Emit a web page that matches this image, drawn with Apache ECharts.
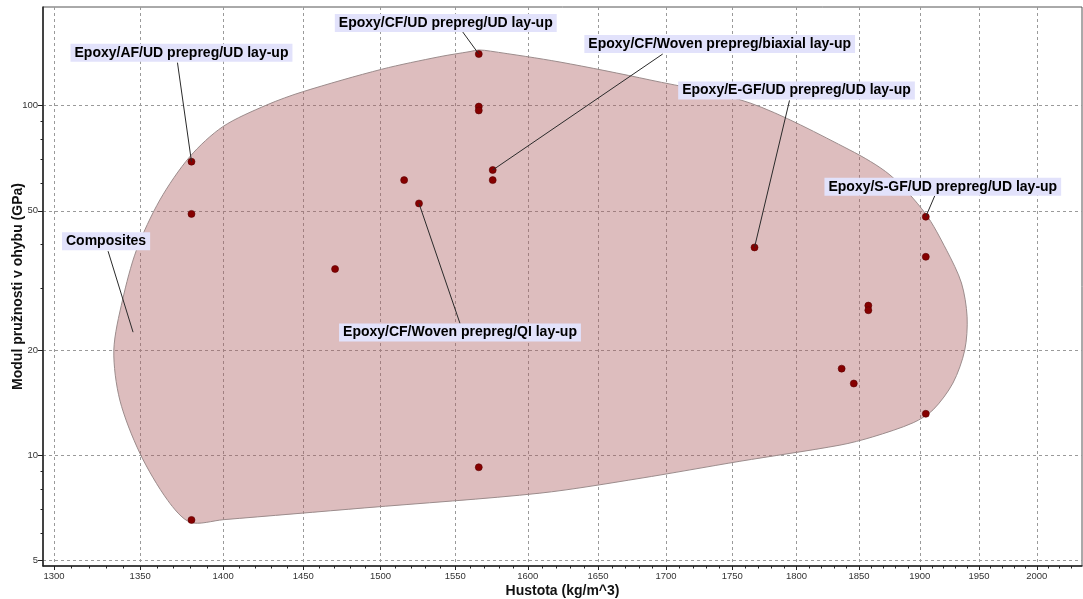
<!DOCTYPE html>
<html>
<head>
<meta charset="utf-8">
<script src="https://cdn.jsdelivr.net/npm/echarts@6/dist/echarts.min.js"></script>
<style>
  html, body { margin: 0; padding: 0; background: #ffffff; }
  #chart { width: 1083px; height: 599px; }
</style>
</head>
<body>
<div id="chart"></div>
<script>
// Axis ticks (log scales on both axes)
const densityTicks = [1300, 1350, 1400, 1450, 1500, 1550, 1600, 1650, 1700, 1750, 1800, 1850, 1900, 1950, 2000];
const densityMinorTicks = [
  1310, 1320, 1330, 1340, 1360, 1370, 1380, 1390, 1410, 1420, 1430, 1440,
  1460, 1470, 1480, 1490, 1510, 1520, 1530, 1540, 1560, 1570, 1580, 1590,
  1610, 1620, 1630, 1640, 1660, 1670, 1680, 1690, 1710, 1720, 1730, 1740,
  1760, 1770, 1780, 1790, 1810, 1820, 1830, 1840, 1860, 1870, 1880, 1890,
  1910, 1920, 1930, 1940, 1960, 1970, 1980, 1990, 2010, 2020, 2030
];
const modulusTicks = [5, 10, 20, 50, 100];
const modulusMinorTicks = [6, 7, 8, 9, 30, 40, 60, 70, 80, 90];

// Material records: density (kg/m^3) and flexural modulus (GPa)
const density = [1380.7, 1380.7, 1380.7, 1470.4, 1515.6, 1525.5, 1566, 1566, 1566, 1566,
                 1575.6, 1575.6, 1767.2, 1836, 1845.8, 1857.6, 1857.6, 1905, 1905, 1905];
const modulus = [69.1, 49.0, 6.54, 34.1, 61.2, 52.5, 140.3, 99.3, 96.8, 9.25,
                 65.4, 61.2, 39.3, 17.7, 16.05, 26.8, 26.0, 48.1, 36.95, 13.15];

// "Composites" family envelope outline
const envelopeDensity = [1380, 1366.4, 1349.8, 1338, 1334.5, 1339.6, 1347.8, 1361.7, 1379.7,
                         1399.8, 1426.9, 1449.8, 1500.7, 1539.5, 1560, 1566, 1574, 1622.7, 1688,
                         1763.6, 1842.6, 1875.3, 1904.3, 1922.4, 1935, 1939.8, 1937.8, 1927.8, 1911.1,
                         1894.5, 1861.3, 1834.6, 1755.9, 1680.7, 1608.5, 1489.7, 1400];
const envelopeModulus = [6.44, 7.44, 10.15, 14.4, 20.0, 27.8, 38.6, 53.7, 71.4,
                         87.0, 100.3, 109.5, 126.9, 137.9, 142.6, 144.1, 143.0, 133.1, 118.3,
                         101.7, 74.6, 63.3, 49.3, 38.6, 31.1, 24.9, 20.0, 16.1, 13.5,
                         12.4, 11.3, 10.7, 9.62, 8.6, 7.8, 7.08, 6.55];

// Callout annotations
const calloutNames = [
  'Epoxy/CF/UD prepreg/UD lay-up',
  'Epoxy/AF/UD prepreg/UD lay-up',
  'Epoxy/CF/Woven prepreg/biaxial lay-up',
  'Epoxy/E-GF/UD prepreg/UD lay-up',
  'Epoxy/S-GF/UD prepreg/UD lay-up',
  'Epoxy/CF/Woven prepreg/QI lay-up',
  'Composites'
];
const calloutDensity = [1566, 1380.7, 1575.6, 1767.2, 1905, 1525.5, 1345.8];
const calloutModulus = [140.3, 69.1, 65.4, 39.3, 48.1, 52.5, 22.5];

// Label placement relative to the anchor (pixels): label centre and leader end
const calloutLayout = [
  { dx: -33, dy: -31, lx: -16, ly: -22 },
  { dx: -10, dy: -109, lx: -14, ly: -99 },
  { dx: 227, dy: -126, lx: 170, ly: -116 },
  { dx: 42, dy: -157, lx: 35, ly: -147 },
  { dx: 17, dy: -30, lx: 9, ly: -21 },
  { dx: 41, dy: 129, lx: 41, ly: 120 },
  { dx: -27, dy: -91, lx: -25, ly: -81 }
];

const FONT_FAMILY = '"Liberation Sans", Arial, sans-serif';
const X_MIN = 1293.7, X_MAX = 2040;
const Y_MIN = 4.83, Y_MAX = 191.2;

const points = density.map((d, i) => [d, modulus[i]]);
const envelope = envelopeDensity.map((d, i) => [d, envelopeModulus[i]]);
const callouts = calloutDensity.map((d, i) => [d, calloutModulus[i]]);

const plainNumber = v => String(Math.round(v));

const chart = echarts.init(document.getElementById('chart'), null, { renderer: 'canvas' });

const option = {
  animation: false,
  backgroundColor: '#ffffff',
  grid: {
    left: 43, top: 7, right: 1, bottom: 33,
    show: true, borderColor: '#555555', borderWidth: 1,
    outerBoundsMode: 'none'
  },
  xAxis: [
    {
      type: 'log', logBase: 10, min: X_MIN, max: X_MAX, position: 'bottom',
      name: 'Hustota (kg/m^3)', nameLocation: 'middle', nameGap: 18, nameMoveOverlap: false,
      nameTextStyle: { fontFamily: FONT_FAMILY, fontWeight: 'bold', fontSize: 14, color: '#111' },
      axisLine: { show: true, onZero: false, lineStyle: { color: '#222', width: 1.5 } },
      axisTick: { show: true, customValues: densityTicks, length: 4, lineStyle: { color: '#222' } },
      axisLabel: { show: true, customValues: densityTicks, formatter: plainNumber,
                   fontFamily: FONT_FAMILY, fontSize: 9.5, color: '#333', margin: 5 },
      splitLine: { show: true, lineStyle: { color: '#9a9a9a', type: [3, 3], width: 1 } }
    },
    {
      type: 'log', logBase: 10, min: X_MIN, max: X_MAX, position: 'bottom',
      axisLine: { show: false },
      axisTick: { show: true, customValues: densityMinorTicks, length: 2.5, lineStyle: { color: '#222' } },
      axisLabel: { show: false },
      splitLine: { show: false }
    }
  ],
  yAxis: [
    {
      type: 'log', logBase: 10, min: Y_MIN, max: Y_MAX, position: 'left',
      name: 'Modul pružnosti v ohybu (GPa)', nameLocation: 'middle', nameGap: 18, nameMoveOverlap: false,
      nameTextStyle: { fontFamily: FONT_FAMILY, fontWeight: 'bold', fontSize: 14, color: '#111' },
      axisLine: { show: true, onZero: false, lineStyle: { color: '#222', width: 1.5 } },
      axisTick: { show: true, customValues: modulusTicks, length: 5, lineStyle: { color: '#222' } },
      axisLabel: { show: true, customValues: modulusTicks, formatter: plainNumber,
                   fontFamily: FONT_FAMILY, fontSize: 9.5, color: '#333', margin: 5 },
      splitLine: { show: true, lineStyle: { color: '#9a9a9a', type: [3, 3], width: 1 } }
    },
    {
      type: 'log', logBase: 10, min: Y_MIN, max: Y_MAX, position: 'left',
      axisLine: { show: false },
      axisTick: { show: true, customValues: modulusMinorTicks, length: 2.5, lineStyle: { color: '#222' } },
      axisLabel: { show: false },
      splitLine: { show: false }
    }
  ],
  series: [
    {
      // family envelope drawn as one smoothed closed outline
      type: 'custom',
      name: 'Composites',
      xAxisIndex: 0, yAxisIndex: 0,
      z: 1,
      silent: true,
      data: envelope,
      renderItem: function (params, api) {
        if (params.dataIndex !== 0) return null;
        const pts = envelope.map(p => api.coord(p));
        return {
          type: 'polygon',
          shape: { points: pts, smooth: 0.3 },
          style: { fill: 'rgba(170, 90, 92, 0.40)', stroke: '#9c8c8c', lineWidth: 1 }
        };
      }
    },
    {
      type: 'scatter',
      name: 'Materials',
      xAxisIndex: 0, yAxisIndex: 0,
      z: 3,
      symbol: 'circle',
      symbolSize: 7,
      itemStyle: { color: '#860000', borderColor: '#5a0000', borderWidth: 0.6, opacity: 1 },
      data: points
    },
    {
      // callout labels with leader lines
      type: 'custom',
      name: 'Callouts',
      xAxisIndex: 0, yAxisIndex: 0,
      z: 5,
      silent: true,
      data: callouts,
      renderItem: function (params, api) {
        const i = params.dataIndex;
        const p = api.coord([api.value(0), api.value(1)]);
        const lay = calloutLayout[i];
        return {
          type: 'group',
          children: [
            {
              type: 'line',
              shape: { x1: p[0], y1: p[1], x2: p[0] + lay.lx, y2: p[1] + lay.ly },
              style: { stroke: '#2a2a2a', lineWidth: 1 }
            },
            {
              type: 'text',
              style: {
                text: calloutNames[i],
                x: p[0] + lay.dx,
                y: p[1] + lay.dy,
                align: 'center',
                verticalAlign: 'middle',
                font: 'bold 14px ' + FONT_FAMILY,
                fill: '#000000',
                backgroundColor: '#e2e2fb',
                padding: [2, 4, 2, 4]
              }
            }
          ]
        };
      }
    }
  ]
};

chart.setOption(option);
</script>
</body>
</html>
